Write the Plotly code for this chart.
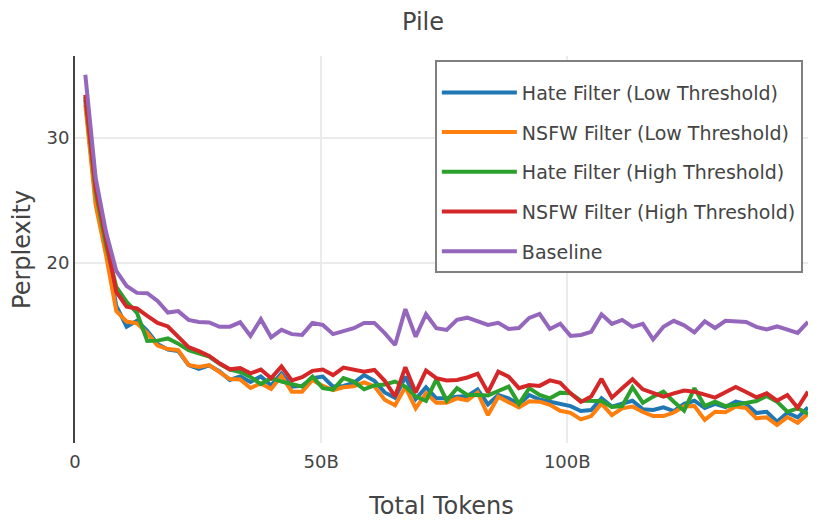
import plotly.graph_objects as go

# evaluation points: every 1000 steps of 2,097,152 tokens
TOKENS_PER_EVAL = 2097152 * 1000
eval_steps = list(range(1, 72))
tokens = [s * TOKENS_PER_EVAL for s in eval_steps]

series_names = [
    "Hate Filter (Low Threshold)",
    "NSFW Filter (Low Threshold)",
    "Hate Filter (High Threshold)",
    "NSFW Filter (High Threshold)",
    "Baseline",
]

hate_low = [33.90, 24.51, 20.84, 17.38, 16.25, 16.56, 16.03, 15.36, 15.09, 15.01,
            14.35, 14.17, 14.33, 14.05, 13.67, 13.83, 13.58, 13.83, 13.43, 13.96,
            13.38, 13.41, 13.75, 13.82, 13.38, 13.41, 13.54, 13.89, 13.63, 13.13,
            12.90, 13.82, 12.85, 13.35, 12.88, 12.88, 12.95, 12.98, 13.26, 12.63,
            13.02, 12.88, 12.63, 13.02, 12.83, 12.73, 12.65, 12.56, 12.36, 12.40,
            12.88, 12.54, 12.66, 12.78, 12.43, 12.40, 12.51, 12.36, 12.65, 12.78,
            12.48, 12.65, 12.52, 12.74, 12.65, 12.28, 12.33, 11.94, 12.29, 12.11,
            12.50]

nsfw_low = [33.36, 24.12, 20.51, 17.10, 16.52, 16.43, 15.91, 15.28, 15.11, 15.06,
            14.35, 14.26, 14.35, 14.05, 13.71, 13.69, 13.32, 13.52, 13.28, 13.85,
            13.16, 13.16, 13.67, 13.41, 13.23, 13.35, 13.39, 13.56, 13.39, 12.82,
            12.59, 13.36, 12.47, 13.09, 12.70, 12.70, 12.88, 12.80, 13.12, 12.20,
            12.95, 12.72, 12.50, 12.76, 12.74, 12.61, 12.37, 12.29, 12.03, 12.16,
            12.66, 12.20, 12.47, 12.54, 12.32, 12.16, 12.16, 12.30, 12.55, 12.56,
            12.01, 12.33, 12.31, 12.54, 12.48, 12.07, 12.11, 11.81, 12.12, 11.90,
            12.25]

hate_high = [34.23, 25.15, 21.19, 18.48, 17.61, 16.99, 15.51, 15.53, 15.64, 15.38,
             15.06, 14.92, 14.75, 14.40, 14.14, 14.03, 13.80, 13.49, 13.75, 13.60,
             13.49, 13.38, 13.82, 13.31, 13.25, 13.75, 13.60, 13.26, 13.43, 13.47,
             13.60, 13.38, 12.96, 12.77, 13.70, 12.79, 13.31, 13.02, 13.02, 13.00,
             13.19, 13.38, 12.65, 13.31, 13.02, 12.88, 13.12, 13.09, 12.78, 12.77,
             12.77, 12.52, 12.56, 13.35, 12.69, 12.95, 13.16, 12.74, 12.37, 13.31,
             12.56, 12.74, 12.56, 12.61, 12.69, 12.77, 12.98, 12.74, 12.33, 12.47,
             12.25]

nsfw_high = [34.46, 25.52, 21.60, 18.19, 17.34, 17.24, 16.83, 16.45, 16.26, 15.73,
             15.21, 15.01, 14.78, 14.43, 14.15, 14.21, 13.97, 14.14, 13.75, 14.28,
             13.65, 13.79, 14.08, 14.14, 13.89, 14.23, 14.12, 14.04, 14.12, 13.63,
             12.96, 14.25, 13.13, 14.09, 13.75, 13.65, 13.67, 13.78, 13.95, 13.13,
             14.04, 13.82, 13.31, 13.45, 13.41, 13.65, 13.54, 13.09, 12.73, 12.96,
             13.72, 12.91, 13.31, 13.70, 13.26, 13.09, 12.95, 13.09, 13.21, 13.16,
             13.02, 12.91, 13.14, 13.36, 13.15, 12.92, 13.09, 12.78, 13.02, 12.49,
             13.16]

baseline = [36.77, 26.32, 22.10, 19.47, 18.54, 18.13, 18.11, 17.66, 17.01, 17.09,
            16.61, 16.50, 16.47, 16.24, 16.25, 16.48, 15.77, 16.65, 15.70, 16.08,
            15.86, 15.82, 16.45, 16.34, 15.86, 15.99, 16.17, 16.45, 16.45, 15.91,
            15.31, 17.20, 15.73, 16.92, 16.17, 16.08, 16.61, 16.73, 16.56, 16.34,
            16.45, 16.13, 16.18, 16.72, 16.94, 16.13, 16.40, 15.77, 15.82, 15.98,
            16.91, 16.40, 16.61, 16.24, 16.40, 15.59, 16.24, 16.56, 16.32, 15.95,
            16.53, 16.18, 16.56, 16.53, 16.50, 16.24, 16.10, 16.26, 16.10, 15.92,
            16.50]

colors = ["#1f77b4", "#ff7f0e", "#2ca02c", "#d62728", "#9467bd"]
all_series = [hate_low, nsfw_low, hate_high, nsfw_high, baseline]

y_ticks = [20, 30]
x_ticks = [0, 50e9, 100e9]

fig = go.Figure()
for name, vals, col in zip(series_names, all_series, colors):
    fig.add_trace(go.Scatter(
        x=tokens, y=vals, mode="lines", name=name, legendgroup=name,
        line=dict(color=col, width=4),
    ))

FONT = "DejaVu Sans"
fig.update_layout(
    width=830, height=520,
    paper_bgcolor="white", plot_bgcolor="white",
    font=dict(family=FONT, color="#444", size=18),
    margin=dict(l=67, r=30, t=48, b=85, autoexpand=False),
    title=dict(text="Pile", x=0.5, xanchor="center", y=0.973, yanchor="middle",
               font=dict(size=24, family=FONT, color="#444")),
    legend=dict(x=0.993, xanchor="right", y=0.99, yanchor="top",
                bgcolor="white", bordercolor="#808080", borderwidth=2,
                font=dict(size=19, family=FONT, color="#444"),
                title=dict(text=" ", font=dict(size=9)),
                tracegroupgap=12, itemwidth=75),
    showlegend=True,
)
fig.update_xaxes(
    title=dict(text="Total Tokens", font=dict(size=24), standoff=26),
    range=[0, tokens[-1]], tickvals=x_ticks, exponentformat="B",
    showgrid=True, gridcolor="#ebebeb", gridwidth=2,
    zeroline=False, showline=False, ticks="", automargin=False,
    tickfont=dict(size=18), ticklabelstandoff=6,
)
fig.update_yaxes(
    title=dict(text="Perplexity", font=dict(size=24), standoff=25),
    type="log", range=[1.047, 1.592], tickvals=y_ticks,
    showgrid=True, gridcolor="#ebebeb", gridwidth=2,
    zeroline=False, showline=True, linecolor="#444", linewidth=2, ticks="",
    automargin=False, tickfont=dict(size=18),
)

fig.write_html("out.html")
